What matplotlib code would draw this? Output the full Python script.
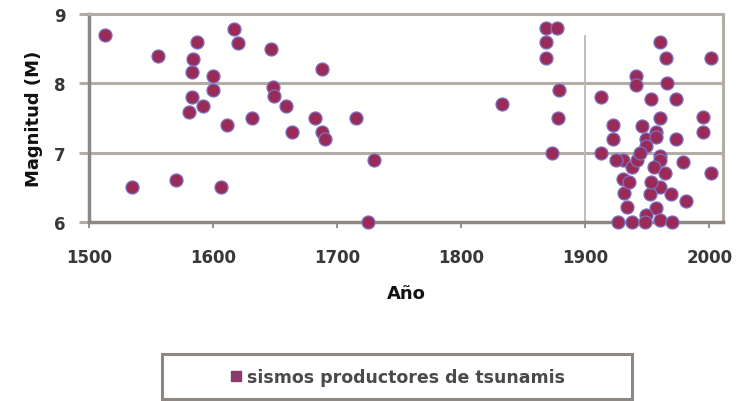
import matplotlib.pyplot as plt
from matplotlib.lines import Line2D
from matplotlib.patches import Rectangle

plt.rcParams['font.family'] = 'DejaVu Sans'
plt.rcParams['font.weight'] = 'bold'

# sismos productores de tsunamis (año, magnitud)
anio = [1513, 1535, 1556, 1570, 1587, 1584, 1583, 1583, 1592, 1581,
        1600, 1600, 1606, 1611, 1617, 1620, 1631, 1647, 1648, 1649,
        1659, 1664, 1688, 1682, 1688, 1690, 1715, 1725, 1730,
        1833, 1868, 1877, 1868, 1868, 1879, 1878, 1873,
        1913, 1922, 1922, 1913, 1941, 1941, 1960, 1965, 2001, 1966,
        1953, 1973, 1960, 1946, 1995, 1995, 1973, 1949, 1960, 1949,
        1930, 1960, 1979, 1938, 1955, 1930, 1964, 2001, 1960, 1931,
        1952, 1969, 1981, 1934, 1957, 1949, 1926, 1938, 1948, 1960,
        1970, 1925, 1942, 1935, 1953, 1944, 1957, 1957]
magnitud = [8.7, 6.5, 8.4, 6.6, 8.6, 8.35, 8.17, 7.8, 7.67, 7.58,
            8.1, 7.9, 6.5, 7.4, 8.78, 8.58, 7.5, 8.5, 7.95, 7.82,
            7.67, 7.3, 8.2, 7.5, 7.3, 7.2, 7.5, 6.0, 6.9,
            7.7, 8.8, 8.8, 8.6, 8.36, 7.9, 7.5, 7.0,
            7.8, 7.4, 7.2, 7.0, 8.1, 7.97, 8.6, 8.36, 8.37, 8.0,
            7.78, 7.78, 7.5, 7.38, 7.52, 7.3, 7.2, 7.2, 6.95, 7.1,
            6.9, 6.9, 6.87, 6.8, 6.8, 6.62, 6.7, 6.7, 6.5, 6.42,
            6.4, 6.4, 6.3, 6.22, 6.2, 6.1, 6.0, 6.0, 6.0, 6.03,
            6.0, 6.9, 6.9, 6.58, 6.58, 7.0, 7.3, 7.22]

xticks = [1500, 1600, 1700, 1800, 1900, 2000]
yticks = [6, 7, 8, 9]

gris = '#8d8883'
gris_claro = '#b3ada8'
texto = '#383838'

fig = plt.figure(figsize=(7.36, 4.02), dpi=100)
ax = fig.add_axes([89/736, 1 - 223/402, (723 - 89)/736, (223 - 15)/402])
ax.set_xlim(1500, 2011)
ax.set_ylim(6, 9)

for y in [7, 8]:
    ax.axhline(y, color=gris_claro, lw=2.2, zorder=1)
ax.axvline(1900, ymax=0.893, color='#bdb8b3', lw=1.3, zorder=1)

ax.scatter(anio, magnitud, s=88, facecolor='#9a2b58', edgecolor='#7d72c2',
           linewidth=0.9, zorder=3, clip_on=False)

for side in ['left', 'bottom']:
    ax.spines[side].set_color(gris)
    ax.spines[side].set_linewidth(2.5)
for side in ['top', 'right']:
    ax.spines[side].set_color(gris_claro)
    ax.spines[side].set_linewidth(2.2)

ax.set_xticks(xticks)
ax.set_yticks(yticks)
ax.tick_params(axis='x', length=4, width=1.3, color=gris, pad=15,
               labelsize=12, labelcolor=texto)
ax.tick_params(axis='y', length=7, width=2.2, color=gris_claro, pad=10,
               labelsize=12, labelcolor=texto)
for lab in ax.get_xticklabels() + ax.get_yticklabels():
    lab.set_fontweight('bold')

ax.set_xlabel('Año', fontsize=13, fontweight='bold', color='#111111', labelpad=13)
ax.set_ylabel('Magnitud (M)', fontsize=13, fontweight='bold', color='#111111', labelpad=8)

fig.patches.append(Rectangle((162/736, 2/402), 470/736, 45/402, transform=fig.transFigure,
                             fill=False, edgecolor=gris, lw=2.2))
handle = Line2D([], [], marker='s', ls='', markersize=7,
                markerfacecolor='#8b3a6f', markeredgecolor='#8b3a6f')
fig.legend(handles=[handle], labels=['sismos productores de tsunamis'], loc='center',
           bbox_to_anchor=(397/736, 1 - 378/402), frameon=False, fontsize=12.5,
           handletextpad=0.2, handlelength=0.8, labelcolor='#4a4a4a')

fig.savefig('out.png', dpi=100)
